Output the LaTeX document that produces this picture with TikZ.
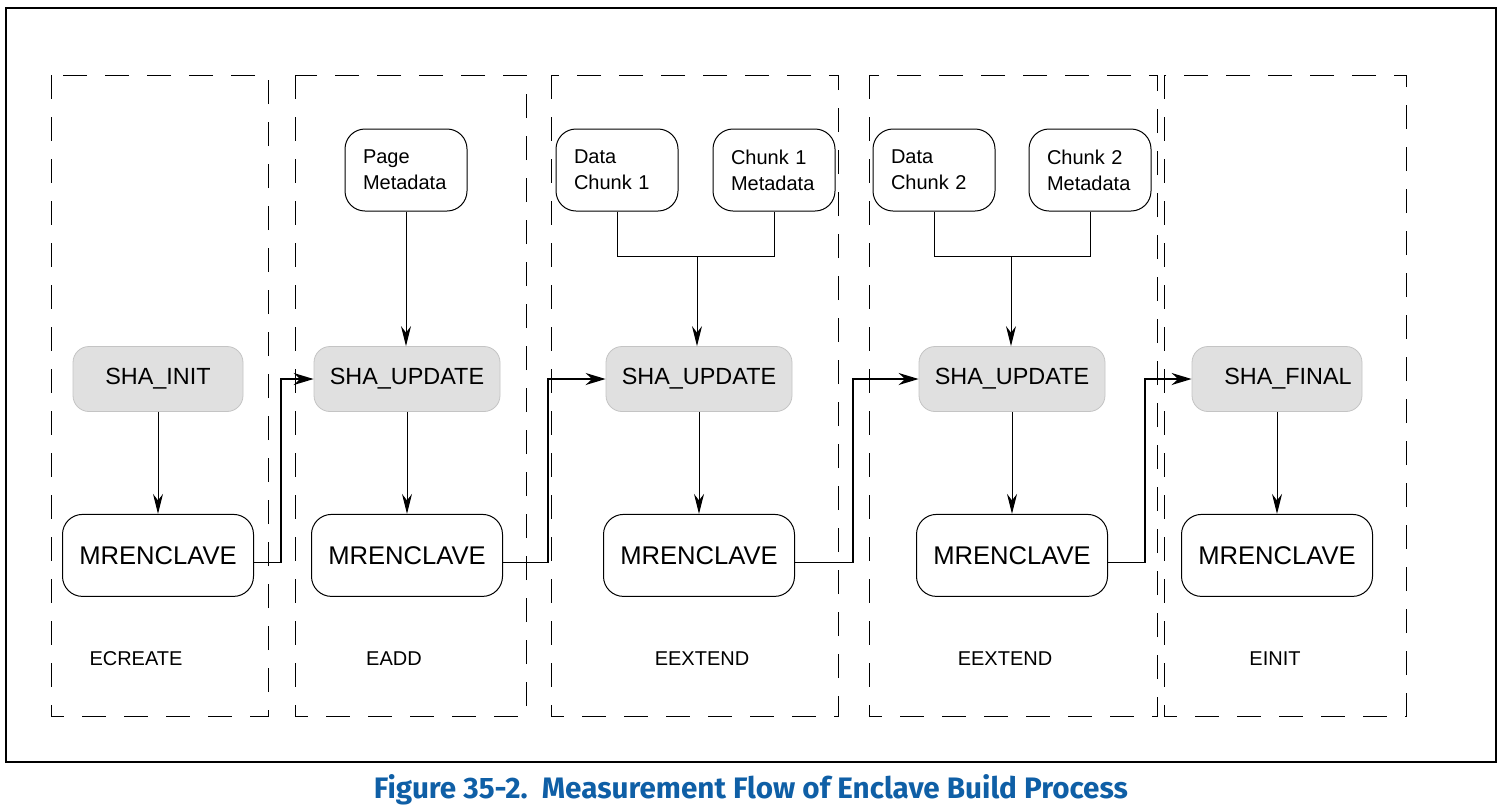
\documentclass[tikz,border=0pt]{standalone}
\usepackage{fontspec}
\setmainfont{Liberation Sans}
\newfontfamily\captionfont{Fira Sans}
\usepackage{tikz}
\usetikzlibrary{arrows.meta,positioning}
\definecolor{shagray}{HTML}{E0E0E0}
\definecolor{shaedge}{HTML}{C4C4C4}
\definecolor{captionblue}{HTML}{0F5FA6}

\begin{document}
\begin{tikzpicture}[
  x=0.5pt, y=-0.5pt,
  node distance=51pt,
  stage/.style={draw, dash pattern=on 12pt off 9pt, line width=0.5pt},
  hashop/.style={draw=shaedge, fill=shagray, rounded corners=8pt, minimum width=85pt, minimum height=32.5pt, font=\fontsize{11.7}{13}\selectfont},
  mrbox/.style={draw, rounded corners=10pt, minimum width=95.5pt, minimum height=41pt, line width=0.5pt, font=\fontsize{12.8}{15}\selectfont},
  inbox/.style={draw, rounded corners=10pt, text width=43pt, inner xsep=9pt, minimum height=41pt, align=left, line width=0.5pt, font=\fontsize{10}{13}\selectfont},
  lbl/.style={font=\fontsize{10}{12}\selectfont},
  arr/.style={-{Stealth[length=10pt,width=5pt]}, line width=0.5pt},
  link/.style={-{Stealth[length=10pt,width=6pt]}, line width=0.9pt}
]
\useasboundingbox (0,0) rectangle (1503,810);
\draw[line width=1pt] (6,8) rectangle (1496,762);

% stages
\draw[stage] (51,75) rectangle (268,716);
\draw[stage] (295,75) rectangle (526,716);
\draw[stage] (551,75) rectangle (838,716);
\draw[stage] (869,75) rectangle (1157,716);
\draw[stage] (1164,75) rectangle (1406,716);

% hash steps
\node[hashop] (init) at (158,379) {SHA\_INIT};
\node[hashop, minimum width=93pt] (upd1) at (407,379) {SHA\_UPDATE};
\node[hashop, minimum width=93pt] (upd2) at (699,379) {SHA\_UPDATE};
\node[hashop, minimum width=93pt] (upd3) at (1012,379) {SHA\_UPDATE};
\node[hashop] (final) at (1277,379) {\hspace*{11pt}SHA\_FINAL};

\node[mrbox, below=of init] (mr1) {MRENCLAVE};
\node[mrbox, below=of upd1] (mr2) {MRENCLAVE};
\node[mrbox, below=of upd2] (mr3) {MRENCLAVE};
\node[mrbox, below=of upd3] (mr4) {MRENCLAVE};
\node[mrbox, below=of final] (mr5) {MRENCLAVE};

% inputs
\node[inbox] (page) at (406,170) {Page\\Metadata};
\node[inbox] (data1) at (617,170) {Data\\Chunk 1};
\node[inbox] (meta1) at (774,170) {Chunk 1\\Metadata};
\node[inbox] (data2) at (934,170) {Data\\Chunk 2};
\node[inbox] (meta2) at (1090,170) {Chunk 2\\Metadata};

% instructions
\node[lbl] (ecreate) at (136,659) {ECREATE};
\node[lbl] (eadd) at (394,659) {EADD};
\node[lbl] (eext1) at (702,659) {EEXTEND};
\node[lbl] (eext2) at (1005,659) {EEXTEND};
\node[lbl] (einit) at (1275,659) {EINIT};

\draw[arr] (init) -- (mr1);
\draw[arr] (upd1) -- (mr2);
\draw[arr] (upd2) -- (mr3);
\draw[arr] (upd3) -- (mr4);
\draw[arr] (final) -- (mr5);

\draw[arr] (page) -- (page.south |- upd1.north);
\coordinate (j1) at (697,256);
\coordinate (j2) at (1011,256);
\draw[line width=0.5pt] (data1.south) |- (j1) -| (meta1.south);
\draw[line width=0.5pt] (data2.south) |- (j2) -| (meta2.south);
\draw[arr] (j1) -- (j1 |- upd2.north);
\draw[arr] (j2) -- (j2 |- upd3.north);

\draw[link] ([yshift=-3.5pt]mr1.east) -- ++(27,0) |- (upd1.west);
\draw[link] ([yshift=-3.5pt]mr2.east) -- ++(45,0) |- (upd2.west);
\draw[link] ([yshift=-3.5pt]mr3.east) -- ++(58,0) |- (upd3.west);
\draw[link] ([yshift=-3.5pt]mr4.east) -- ++(37,0) |- (final.west);

\node[anchor=base, text=captionblue] (caption) at (751,798)
  {\resizebox{377pt}{12pt}{\captionfont\bfseries Figure 35-2.\ \ Measurement Flow of Enclave Build Process}};
\end{tikzpicture}
\end{document}
